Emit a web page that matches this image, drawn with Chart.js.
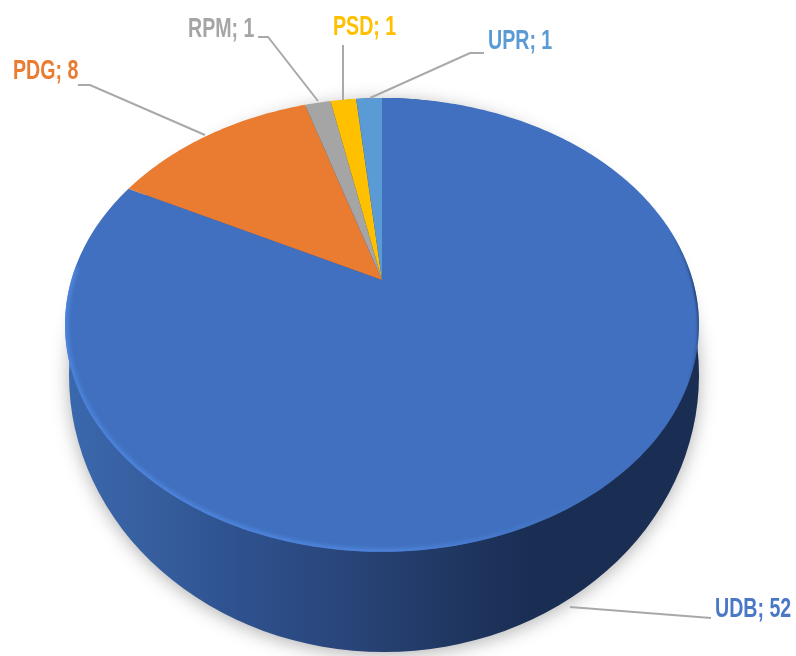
<!DOCTYPE html>
<html>
<head>
<meta charset="utf-8">
<style>
    html, body { margin: 0; padding: 0; background: #fff; overflow: hidden; }
    #chart { display: block; filter: blur(0.7px); }
</style>
<script src="https://cdn.jsdelivr.net/npm/chart.js@4"></script>
</head>
<body>
<canvas id="chart" width="796" height="656"></canvas>
<script>
// Data
const categories = ['UDB', 'PDG', 'RPM', 'PSD', 'UPR'];
const values = [52, 8, 1, 1, 1];
const colors = ['#4070bf', '#e97c30', '#a5a5a5', '#ffc000', '#5b9bd5'];
const textColors = ['#4a78c6', '#e97c30', '#a5a5a5', '#ffc000', '#5b9bd5'];

// Leader lines and label spots, same order as categories
const labelSpots = [
    { x: 715, y: 609, line: [[711, 618], [570, 607]] },
    { x: 13, y: 71, line: [[78, 85], [90, 85], [205, 135]] },
    { x: 188, y: 29, line: [[258, 37], [268, 37], [318, 101]] },
    { x: 333, y: 27, line: [[343, 45], [343, 100]] },
    { x: 488, y: 41, line: [[484, 53], [470, 53], [370, 98]] }
];

// Tilted disc: the unit circle seen in perspective
const apexX = 382, apexY = 280;
const spreadX = 310.7, spreadY = 218, tilt = -0.198;

function project(angle) {
    const u = Math.cos(angle), v = Math.sin(angle);
    const d = 1 + tilt * v;
    return [apexX + spreadX * u / d, apexY + spreadY * v / d];
}

function traceRim(ctx, from, to) {
    const steps = Math.max(4, Math.ceil((to - from) * 60));
    for (let i = 0; i <= steps; i++) {
        const p = project(from + (to - from) * i / steps);
        ctx.lineTo(p[0], p[1]);
    }
}

function drawWall(ctx) {
    const wall = ctx.createLinearGradient(70, 0, 697, 0);
    wall.addColorStop(0, '#3a68ad');
    wall.addColorStop(0.12, '#375f9f');
    wall.addColorStop(0.25, '#2f5391');
    wall.addColorStop(0.45, '#294478');
    wall.addColorStop(0.62, '#1f3660');
    wall.addColorStop(0.75, '#1a2d52');
    wall.addColorStop(1, '#1a2d52');

    ctx.save();
    ctx.shadowColor = 'rgba(0,0,0,0.3)';
    ctx.shadowBlur = 18;
    ctx.shadowOffsetX = 0;
    ctx.shadowOffsetY = 3;
    ctx.fillStyle = wall;
    ctx.beginPath();
    ctx.ellipse(384, 375, 315, 277, 0, 0, Math.PI * 2);
    ctx.fill();
    ctx.restore();
}

function drawRim(ctx) {
    // light edge on the lower left, dark edge on the right
    const light = ctx.createLinearGradient(65, 0, 600, 0);
    light.addColorStop(0, 'rgba(80,135,225,0.95)');
    light.addColorStop(0.6, 'rgba(80,135,225,0.95)');
    light.addColorStop(1, 'rgba(80,135,225,0)');
    const dark = ctx.createLinearGradient(0, 230, 0, 390);
    dark.addColorStop(0, 'rgba(26,45,82,0)');
    dark.addColorStop(0.4, 'rgba(26,45,82,0.8)');
    dark.addColorStop(1, 'rgba(26,45,82,0)');

    ctx.save();
    ctx.beginPath();
    traceRim(ctx, 0, Math.PI * 2);
    ctx.closePath();
    ctx.clip();
    ctx.filter = 'blur(2px)';
    ctx.lineWidth = 6;
    ctx.strokeStyle = light;
    ctx.beginPath();
    traceRim(ctx, Math.PI * 0.2, Math.PI * 1.02);
    ctx.stroke();
    ctx.filter = 'blur(1px)';
    ctx.lineWidth = 3;
    ctx.strokeStyle = dark;
    ctx.beginPath();
    traceRim(ctx, -Math.PI * 0.1, Math.PI * 0.14);
    ctx.stroke();
    ctx.restore();
}

const tiltedPie = {
    id: 'tiltedPie',
    beforeDatasetsDraw(chart) {
        const ctx = chart.ctx;
        drawWall(ctx);
        chart.getDatasetMeta(0).data.forEach((arc, i) => {
            ctx.fillStyle = colors[i];
            ctx.beginPath();
            ctx.moveTo(apexX, apexY);
            traceRim(ctx, arc.startAngle, arc.endAngle);
            ctx.closePath();
            ctx.fill();
        });
        drawRim(ctx);
        return false;
    },
    afterDraw(chart) {
        const ctx = chart.ctx;
        ctx.save();
        ctx.lineWidth = 2;
        ctx.strokeStyle = '#a9a9a9';
        ctx.textBaseline = 'middle';
        ctx.font = 'bold 28px "Liberation Sans"';
        categories.forEach((name, i) => {
            const spot = labelSpots[i];
            ctx.beginPath();
            spot.line.forEach(p => ctx.lineTo(p[0], p[1]));
            ctx.stroke();
            // the labels are a narrow face, squeeze the text to fit
            ctx.save();
            ctx.translate(spot.x, spot.y);
            ctx.scale(0.7, 1);
            ctx.fillStyle = textColors[i];
            ctx.fillText(name + '; ' + values[i], 0, 0);
            ctx.restore();
        });
        ctx.restore();
    }
};

new Chart(document.getElementById('chart'), {
    type: 'pie',
    data: {
        labels: categories,
        datasets: [{
            data: values,
            backgroundColor: colors,
            borderWidth: 0
        }]
    },
    options: {
        responsive: false,
        animation: false,
        plugins: {
            legend: { display: false },
            tooltip: { enabled: false }
        }
    },
    plugins: [tiltedPie]
});
</script>
</body>
</html>
